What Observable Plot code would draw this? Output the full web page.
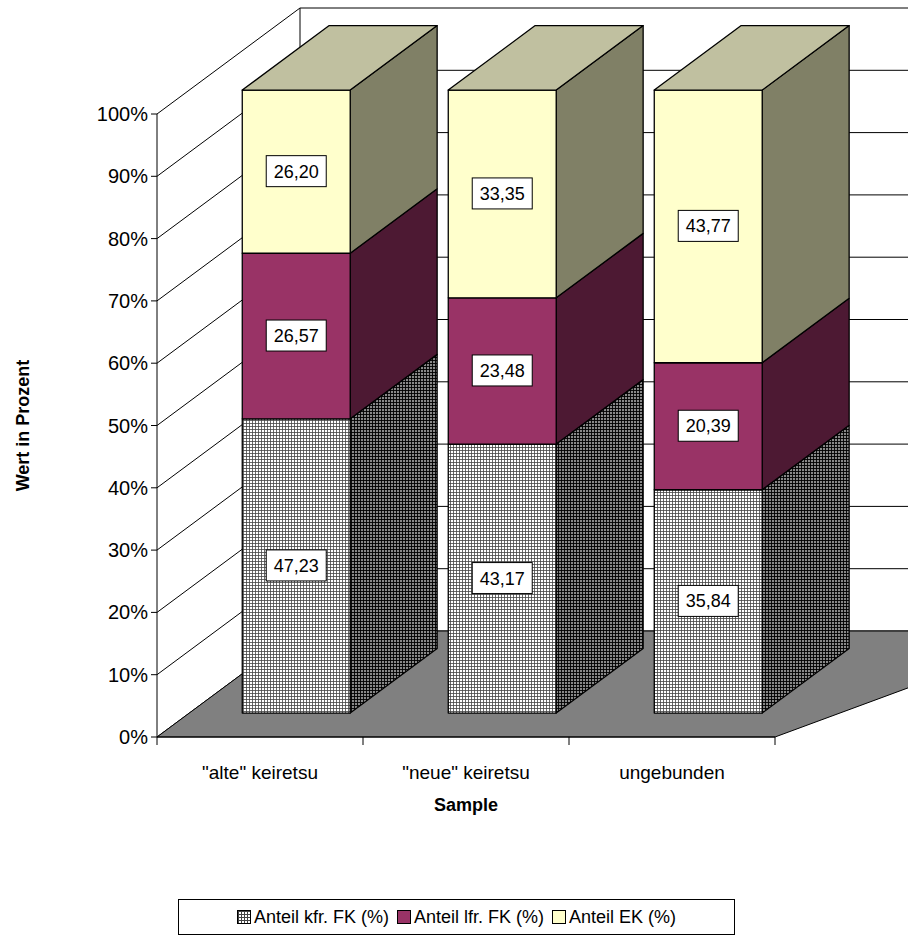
<!DOCTYPE html>
<html><head><meta charset="utf-8">
<script src="https://cdn.jsdelivr.net/npm/d3@7"></script>
<script src="https://cdn.jsdelivr.net/npm/@observablehq/plot@0.6"></script>
<style>body{margin:0;background:#fff;font-family:Arial,"Liberation Sans",sans-serif}
svg text{font-family:Arial,"Liberation Sans",sans-serif}
#legend{position:absolute;left:178px;top:899px;width:555px;height:34px;border:1px solid #000;display:flex;align-items:center;justify-content:center;gap:8px;font-size:18px}
#legend span.sw{display:inline-block;width:12px;height:12px;border:1px solid #000;margin-right:3px;vertical-align:-1px}
</style></head><body>
<div id="chart"></div>
<div id="legend"></div>
<script>
const categories = ['"alte" keiretsu', '"neue" keiretsu', 'ungebunden'];
const seriesNames = ["Anteil kfr. FK (%)", "Anteil lfr. FK (%)", "Anteil EK (%)"];
const kfrFK = [47.23, 43.17, 35.84];
const lfrFK = [26.57, 23.48, 20.39];
const EK = [26.20, 33.35, 43.77];
const yTicks = [0,10,20,30,40,50,60,70,80,90,100];
const fronts = ["url(#hatchF)", "#993366", "#ffffcc"];
const sides = ["url(#hatchS)", "#4d1933", "#808066"];
const topFace = "#c0c0a0";

const series = [kfrFK, lfrFK, EK];
const segs = [];
categories.forEach((c, i) => {
  let base = 0;
  series.forEach((s, k) => { segs.push({i, k, y0: base, y1: base + s[i], v: s[i]}); base += s[i]; });
});
const DX = 143, DY = 106, Z0 = 0.226, Z1 = 0.834, B0 = 0.257, B1 = 0.781;
const ns = "http://www.w3.org/2000/svg";

const render = (index, scales) => {
  const g = document.createElementNS(ns, "g");
  g.setAttribute("font-family", "Arial, 'Liberation Sans', sans-serif");
  const sx = scales.x, sy = scales.y;
  const P = (xu, p, z) => [sx(xu) + z * DX, sy(p) - z * DY];
  const el = (tag, attrs, txt) => { const e = document.createElementNS(ns, tag); for (const k in attrs) e.setAttribute(k, attrs[k]); if (txt != null) e.textContent = txt; g.appendChild(e); return e; };
  const poly = (pts, fill, stroke = "#000", sw = 1.3) => el("polygon", {points: pts.map(p => p.join(",")).join(" "), fill, stroke, "stroke-width": sw, "stroke-linejoin": "round"});
  const line = (pts, sw = 1) => el("polyline", {points: pts.map(p => p.join(",")).join(" "), fill: "none", stroke: "#000", "stroke-width": sw});
  g.innerHTML = `<defs>
  <pattern id="hatchF" width="3" height="3" patternUnits="userSpaceOnUse"><rect width="3" height="3" fill="#fff"/><path d="M0,0.5H3M0.5,0V3" stroke="#444" stroke-width="0.8"/></pattern>
  <pattern id="hatchS" width="3" height="3" patternUnits="userSpaceOnUse"><rect width="3" height="3" fill="#888"/><path d="M0,0.5H3M0.5,0V3" stroke="#000" stroke-width="0.9"/></pattern></defs>`;
  poly([P(0,0,1), P(0,100,1), P(3.7,100,1), P(3.7,0,1)], "#fff", "none");
  poly([P(0,0,0), P(0,0,1), P(0,100,1), P(0,100,0)], "#fff", "none");
  yTicks.forEach(t => line([P(0,t,0), P(0,t,1), P(3.7,t,1)], 1));
  line([P(0,0,1), P(0,100,1)], 1);
  poly([P(0,0,0), P(0,0,1), P(3.7,0,1), P(3,0,0)], "#808080", "#000", 1);
  segs.forEach(s => {
    const x0 = s.i + B0, x1 = s.i + B1;
    poly([P(x1,s.y0,Z0), P(x1,s.y0,Z1), P(x1,s.y1,Z1), P(x1,s.y1,Z0)], sides[s.k]);
    poly([P(x0,s.y0,Z0), P(x1,s.y0,Z0), P(x1,s.y1,Z0), P(x0,s.y1,Z0)], fronts[s.k]);
    if (s.k === 2) poly([P(x0,s.y1,Z0), P(x1,s.y1,Z0), P(x1,s.y1,Z1), P(x0,s.y1,Z1)], topFace);
  });
  segs.forEach(s => {
    const [cx, cy] = P(s.i + (B0 + B1) / 2, (s.y0 + s.y1) / 2, Z0);
    el("rect", {x: cx - 30, y: cy - 16, width: 60, height: 31, fill: "#fff", stroke: "#000", "stroke-width": 1});
    el("text", {x: cx, y: cy + 6, "text-anchor": "middle", "font-size": 18, fill: "#000"}, s.v.toFixed(2).replace(".", ","));
  });
  line([P(0,0,0), P(0,100,0)], 1);
  yTicks.forEach(t => { const [x, y] = P(0,t,0); line([[x-6,y],[x,y]]); el("text", {x: x - 9, y: y + 7, "text-anchor": "end", "font-size": 20}, t + "%"); });
  line([P(0,0,0), P(3,0,0)], 1);
  [0,1,2,3].forEach(t => { const [x, y] = P(t,0,0); line([[x,y],[x,y+8]]); });
  categories.forEach((c, i) => { const [x, y] = P(i + 0.5, 0, 0); el("text", {x, y: y + 42, "text-anchor": "middle", "font-size": 19}, c); });
  const [mx, my] = P(1.5, 0, 0);
  el("text", {x: mx, y: my + 74, "text-anchor": "middle", "font-size": 18, "font-weight": "bold"}, "Sample");
  el("text", {transform: `translate(29,${sy(50)}) rotate(-90)`, "text-anchor": "middle", "font-size": 18, "font-weight": "bold"}, "Wert in Prozent");
  return g;
};

const chart = Plot.plot({
  width: 908, height: 880,
  marginLeft: 157, marginRight: 133, marginTop: 114, marginBottom: 143,
  x: {domain: [0, 3], axis: null},
  y: {domain: [0, 100], axis: null},
  marks: [render]
});
chart.style.overflow = "visible";
document.getElementById("chart").appendChild(chart);

const sw = ["background:#fff url('data:image/svg+xml;utf8,<svg xmlns=%22http://www.w3.org/2000/svg%22 width=%223%22 height=%223%22><path d=%22M0,0.5H3M0.5,0V3%22 stroke=%22%23444%22/></svg>')", "background:#993366", "background:#ffffcc"];
document.getElementById("legend").innerHTML = seriesNames.map((n, k) => `<span><span class="sw" style="${sw[k]}"></span>${n}</span>`).join("");
</script></body></html>
